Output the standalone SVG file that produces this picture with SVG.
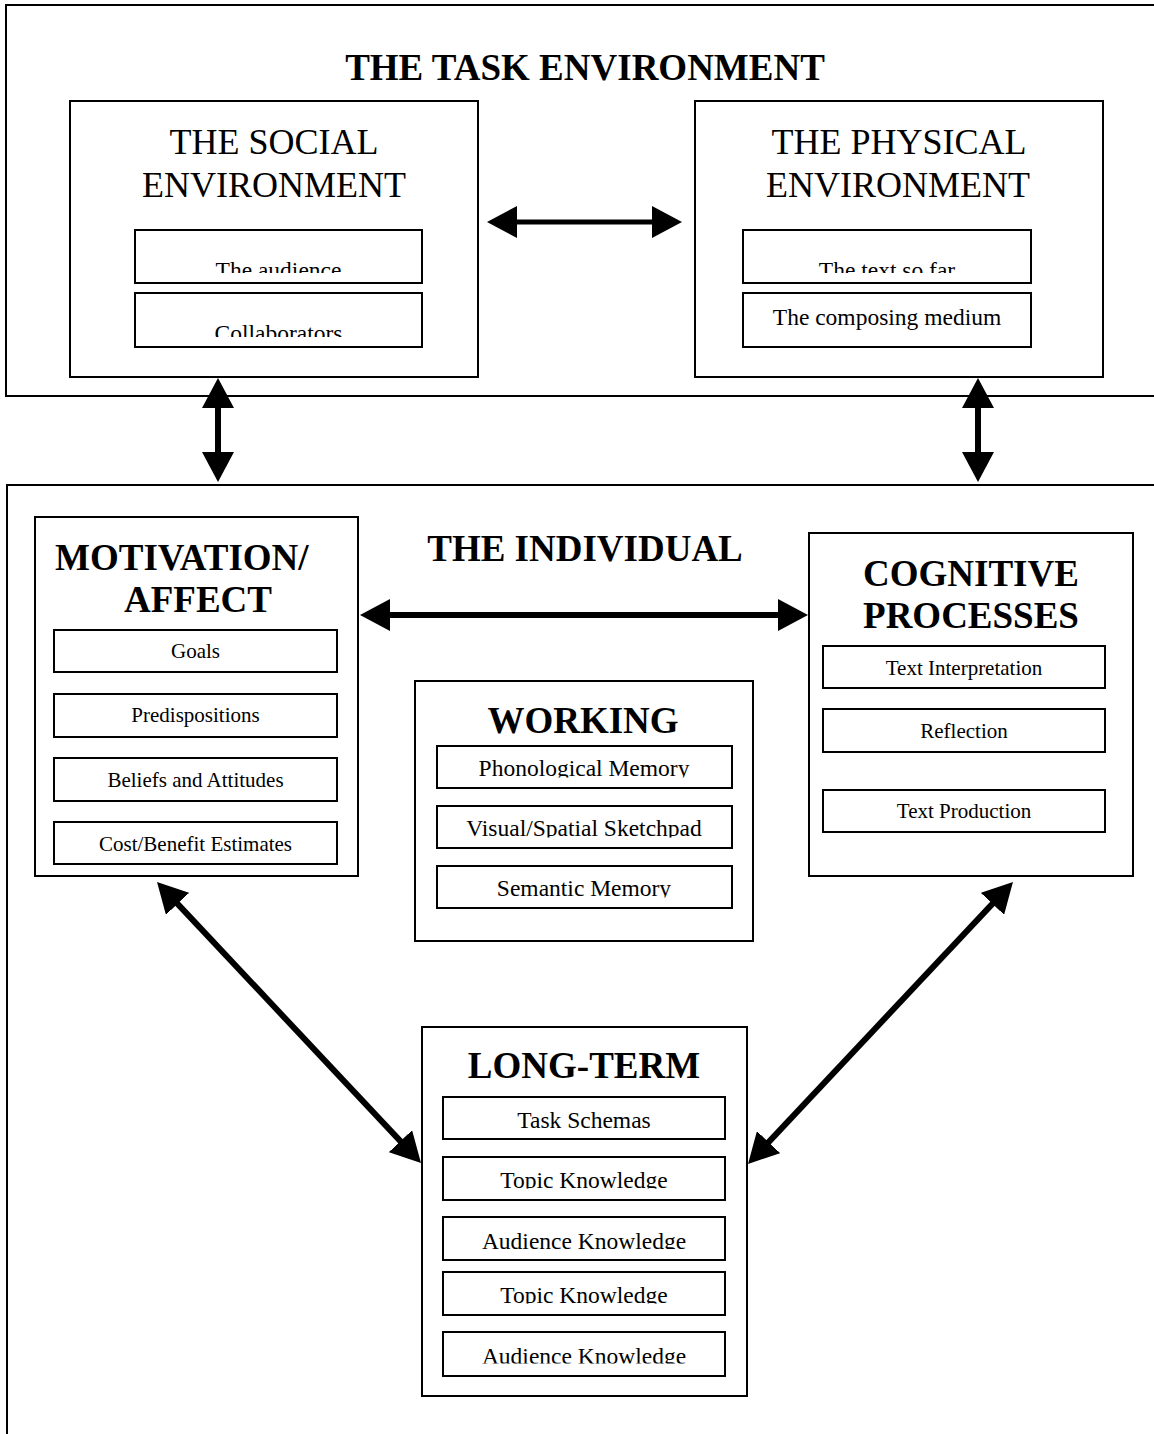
<svg xmlns="http://www.w3.org/2000/svg" width="1154" height="1434" viewBox="0 0 1154 1434">
<style>
.box{fill:#fff;stroke:#000;stroke-width:2}
.sub{fill:#fff;stroke:#000;stroke-width:2}
.t{font-family:"Liberation Serif","Times New Roman",serif;fill:#000;text-anchor:middle}
.h1{font-size:37px;font-weight:bold}
.h2{font-size:36px}
.s1{font-size:23.5px}
.s2{font-size:21px}
.conn{stroke:#000;stroke-width:6;fill:none;marker-start:url(#ah);marker-end:url(#ah)}
</style>
<defs>
<marker id="ah" markerUnits="userSpaceOnUse" viewBox="0 0 32 32" markerWidth="32" markerHeight="32" refX="2" refY="16" orient="auto-start-reverse"><path d="M0,0 L30,16 L0,32 z" fill="#000"/></marker>
<clipPath id="c-aud"><rect x="135" y="230" width="287" height="43"/></clipPath>
<clipPath id="c-col"><rect x="135" y="293" width="287" height="44"/></clipPath>
<clipPath id="c-tsf"><rect x="743" y="230" width="288" height="43"/></clipPath>
<clipPath id="c-pho"><rect x="437" y="746" width="295" height="31.5"/></clipPath>
<clipPath id="c-vis"><rect x="437" y="806" width="295" height="31.5"/></clipPath>
<clipPath id="c-sem"><rect x="437" y="866" width="295" height="31.5"/></clipPath>
<clipPath id="c-tk1"><rect x="443" y="1157" width="282" height="31.5"/></clipPath>
<clipPath id="c-ak1"><rect x="443" y="1217" width="282" height="32"/></clipPath>
<clipPath id="c-tk2"><rect x="443" y="1272" width="282" height="31.5"/></clipPath>
<clipPath id="c-ak2"><rect x="443" y="1332" width="282" height="31.5"/></clipPath>
</defs>

<g id="task-environment">
<rect class="box" x="6" y="5" width="1160" height="391"/>
<text class="t h1" x="585" y="80">THE TASK ENVIRONMENT</text>
</g>

<g id="social-environment">
<rect class="box" x="70" y="101" width="408" height="276"/>
<text class="t h2" x="274" y="154">THE SOCIAL</text>
<text class="t h2" x="274" y="197">ENVIRONMENT</text>
<rect class="sub" x="135" y="230" width="287" height="53"/>
<text class="t s1" x="278.5" y="278" clip-path="url(#c-aud)">The audience</text>
<rect class="sub" x="135" y="293" width="287" height="54"/>
<text class="t s1" x="278.5" y="341" clip-path="url(#c-col)">Collaborators</text>
</g>

<g id="physical-environment">
<rect class="box" x="695" y="101" width="408" height="276"/>
<text class="t h2" x="899" y="154">THE PHYSICAL</text>
<text class="t h2" x="898" y="197">ENVIRONMENT</text>
<rect class="sub" x="743" y="230" width="288" height="53"/>
<text class="t s1" x="887" y="278" clip-path="url(#c-tsf)">The text so far</text>
<rect class="sub" x="743" y="293" width="288" height="54"/>
<text class="t s1" x="887" y="325">The composing medium</text>
</g>

<g id="individual">
<rect class="box" x="7" y="485" width="1160" height="1000"/>
<text class="t h1" x="585" y="561">THE INDIVIDUAL</text>
</g>

<g id="motivation-affect">
<rect class="box" x="35" y="517" width="323" height="359"/>
<text class="t h1" x="55" y="570" style="text-anchor:start">MOTIVATION/</text>
<text class="t h1" x="124" y="612" style="text-anchor:start">AFFECT</text>
<rect class="sub" x="54" y="630" width="283" height="42"/>
<text class="t s2" x="195.5" y="658">Goals</text>
<rect class="sub" x="54" y="694" width="283" height="43"/>
<text class="t s2" x="195.5" y="722">Predispositions</text>
<rect class="sub" x="54" y="758" width="283" height="43"/>
<text class="t s2" x="195.5" y="787">Beliefs and Attitudes</text>
<rect class="sub" x="54" y="822" width="283" height="42"/>
<text class="t s2" x="195.5" y="851">Cost/Benefit Estimates</text>
</g>

<g id="cognitive-processes">
<rect class="box" x="809" y="533" width="324" height="343"/>
<text class="t h1" x="971" y="586">COGNITIVE</text>
<text class="t h1" x="971" y="628">PROCESSES</text>
<rect class="sub" x="823" y="646" width="282" height="42"/>
<text class="t s2" x="964" y="675">Text Interpretation</text>
<rect class="sub" x="823" y="709" width="282" height="43"/>
<text class="t s2" x="964" y="738">Reflection</text>
<rect class="sub" x="823" y="790" width="282" height="42"/>
<text class="t s2" x="964" y="818">Text Production</text>
</g>

<g id="working-memory">
<rect class="box" x="415" y="681" width="338" height="260"/>
<text class="t h1" x="583" y="733">WORKING</text>
<rect class="sub" x="437" y="746" width="295" height="42"/>
<text class="t s1" x="584" y="776" clip-path="url(#c-pho)">Phonological Memory</text>
<rect class="sub" x="437" y="806" width="295" height="42"/>
<text class="t s1" x="584" y="836" clip-path="url(#c-vis)">Visual/Spatial Sketchpad</text>
<rect class="sub" x="437" y="866" width="295" height="42"/>
<text class="t s1" x="584" y="896" clip-path="url(#c-sem)">Semantic Memory</text>
</g>

<g id="long-term-memory">
<rect class="box" x="422" y="1027" width="325" height="369"/>
<text class="t h1" x="584" y="1078">LONG-TERM</text>
<rect class="sub" x="443" y="1097" width="282" height="42"/>
<text class="t s1" x="584" y="1128">Task Schemas</text>
<rect class="sub" x="443" y="1157" width="282" height="43"/>
<text class="t s1" x="584" y="1188" clip-path="url(#c-tk1)">Topic Knowledge</text>
<rect class="sub" x="443" y="1217" width="282" height="43"/>
<text class="t s1" x="584" y="1249" clip-path="url(#c-ak1)">Audience Knowledge</text>
<rect class="sub" x="443" y="1272" width="282" height="43"/>
<text class="t s1" x="584" y="1303" clip-path="url(#c-tk2)">Topic Knowledge</text>
<rect class="sub" x="443" y="1332" width="282" height="44"/>
<text class="t s1" x="584" y="1364" clip-path="url(#c-ak2)">Audience Knowledge</text>
</g>

<g id="connectors">
<line class="conn" x1="515" y1="222" x2="654" y2="222" style="stroke-width:5"/>
<line class="conn" x1="218" y1="406" x2="218" y2="454"/>
<line class="conn" x1="978" y1="406" x2="978" y2="454"/>
<line class="conn" x1="388" y1="615" x2="780" y2="615"/>
<line class="conn" x1="176.2" y1="902.4" x2="401.8" y2="1142.6"/>
<line class="conn" x1="993.8" y1="902.4" x2="767.2" y2="1143.6"/>
</g>
</svg>
